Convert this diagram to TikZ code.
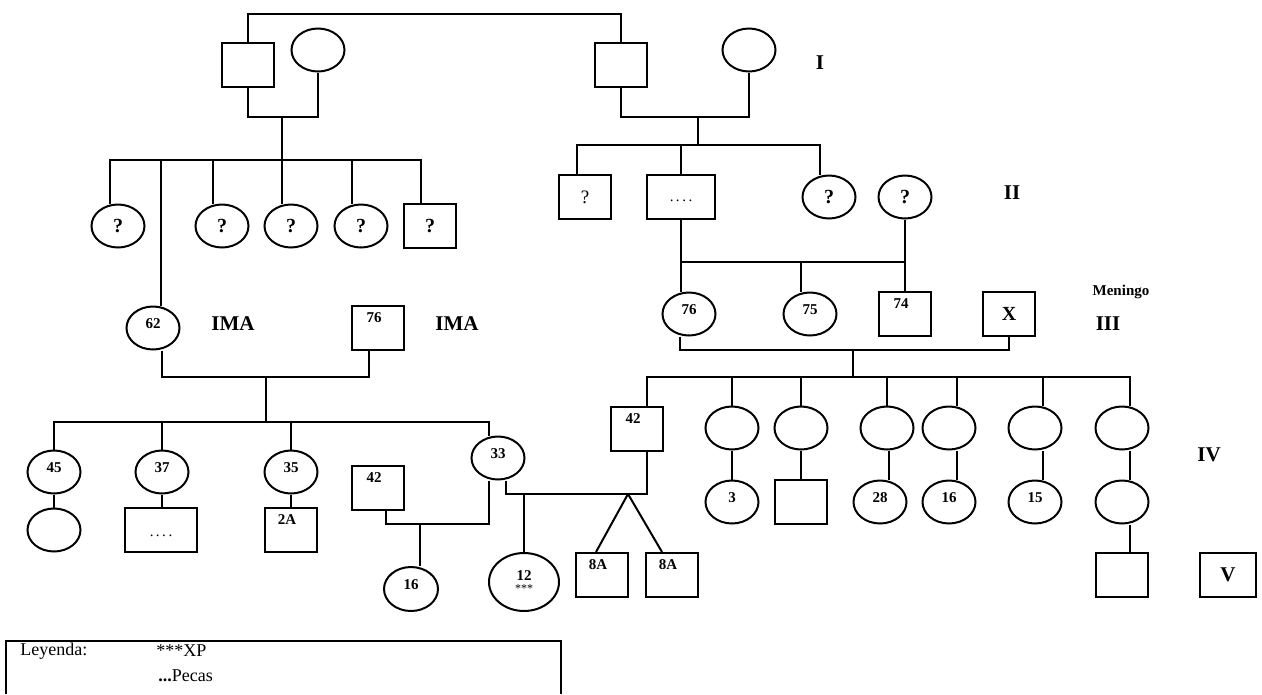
\documentclass[tikz,border=0pt]{standalone}
\usepackage{fontspec}
\setmainfont{Liberation Serif}
\usetikzlibrary{shapes.geometric}

\begin{document}
\begin{tikzpicture}[x=1pt,y=-1pt,line width=2pt,
    male/.style={draw,rectangle,minimum width=52pt,minimum height=44pt,inner sep=0},
    female/.style={draw,ellipse,minimum width=53pt,minimum height=43pt,inner sep=0},
    num/.style={font=\bfseries\fontsize{15}{15}\selectfont,text depth=9pt},
    toplbl/.style={font=\bfseries\fontsize{15}{15}\selectfont,anchor=north,xshift=-4pt,yshift=-3pt},
    qm/.style={font=\bfseries\fontsize{20}{20}\selectfont},
    gen/.style={font=\bfseries\fontsize{21}{21}\selectfont},
    dots/.style={font=\fontsize{15}{15}\selectfont}
  ]
    \useasboundingbox (0,0) rectangle (1262,694);

    \node[male] at (248,65) (gp1) {};
    \node[female] at (318,50) (gm1) {};
    \node[male] at (621,65) (gp2) {};
    \node[female] at (749,50) (gm2) {};
    \node[gen] at (820,63) (gI) {I};

    \node[female,qm] at (118,226) (a1) {?};
    \node[female,qm] at (222,226) (a3) {?};
    \node[female,qm] at (291,226) (a4) {?};
    \node[female,qm] at (361,226) (a5) {?};
    \node[male,qm] at (430,226) (a6) {?};

    \node[male,font=\fontsize{19}{19}\selectfont] at (585,197) (q1) {?};
    \node[male,minimum width=68pt,dots,text height=10pt] at (681,197) (q2) {.\,.\,.\,.};
    \node[female,qm] at (829,197) (q3) {?};
    \node[female,qm] at (905,197) (q4) {?};
    \node[gen] at (1012,193) (gII) {II};

    \node[female,num] at (153,328) (g62) {62};
    \node[gen] at (233,324) (ima1) {IMA};
    \node[male,label={[toplbl]north:76}] at (378,328) (h76) {};
    \node[gen] at (457,324) (ima2) {IMA};

    \node[female,num] at (689,314) (r76) {76};
    \node[female,num] at (810,314) (r75) {75};
    \node[male,label={[toplbl]north:74}] at (905,314) (r74) {};
    \node[male,font=\bfseries\fontsize{20}{20}\selectfont] at (1009,314) (rX) {X};
    \node[font=\bfseries\fontsize{15}{15}\selectfont] at (1121,292) (men) {Meningo};
    \node[gen] at (1108,324) (gIII) {III};

    \node[female,num] at (54,472) (d45) {45};
    \node[female,num] at (162,472) (d37) {37};
    \node[female,num] at (291,472) (d35) {35};
    \node[female,num] at (498,458) (d33) {33};
    \node[male,label={[toplbl]north:42}] at (378,488) (h42) {};
    \node[male,label={[toplbl]north:42}] at (637,429) (h42b) {};

    \node[female] at (54,530) (e1) {};
    \node[male,minimum width=72pt,dots,text height=13pt] at (161,530) (e2) {.\,.\,.\,.};
    \node[male,label={[toplbl]north:2A}] at (291,530) (e3) {};
    \node[female,num,minimum width=54pt,minimum height=44pt] at (411,589) (f16) {16};
    \node[female,minimum width=70pt,minimum height=58pt,align=center,font=\bfseries\fontsize{15}{12}\selectfont] at (524,582) (f12) {12\\{\mdseries\fontsize{12}{12}\selectfont ***}};
    \node[male,label={[toplbl]north:8A}] at (602,575) (t1) {};
    \node[male,label={[toplbl]north:8A}] at (672,575) (t2) {};

    \node[female] at (732,428) (k1) {};
    \node[female] at (801,428) (k2) {};
    \node[female] at (887,428) (k3) {};
    \node[female] at (949,428) (k4) {};
    \node[female] at (1035,428) (k5) {};
    \node[female] at (1122,428) (k6) {};
    \node[gen] at (1209,455) (gIV) {IV};

    \node[female,num] at (732,502) (m1) {3};
    \node[male] at (801,502) (m2) {};
    \node[female,num] at (880,502) (m3) {28};
    \node[female,num] at (949,502) (m4) {16};
    \node[female,num] at (1035,502) (m5) {15};
    \node[female] at (1122,502) (m6) {};
    \node[male] at (1122,575) (n1) {};
    \node[male,minimum width=56pt,gen] at (1228,575) (gV) {V};

    \coordinate (top) at (440,14);
    \coordinate (u1) at (282,117);
    \coordinate (s1) at (282,160);
    \coordinate (u2) at (698,117);
    \coordinate (s2) at (698,145);
    \coordinate (u3) at (266,377);
    \coordinate (s3) at (266,422);
    \coordinate (s4) at (801,262);
    \coordinate (u4) at (420,524);
    \coordinate (u5) at (524,494);
    \coordinate (tw) at (628,494);
    \coordinate (u6) at (853,350);
    \coordinate (s5) at (853,377);

    \draw (gp1.north) |- (top) -| (gp2.north);
    \draw (gp1.south) |- (u1) -| (gm1.south);
    \draw (u1) -- (s1);
    \draw (gp2.south) |- (u2) -| (gm2.south);
    \draw (u2) -- (s2);

    \draw ([xshift=-8pt]a1.north) |- (s1) -| ([xshift=-9pt]a6.north);
    \foreach \n in {a3,a4,a5}
        \draw ([xshift=-9pt]\n.north) -- ([xshift=-9pt]\n.north |- s1);
    \draw ([xshift=8pt]g62.north) -- ([xshift=8pt]g62.north |- s1);

    \draw ([xshift=-8pt]q1.north) |- (s2) -| ([xshift=-9pt]q3.north);
    \draw (q2.north) -- (q2.north |- s2);
    \draw (q2.south) -- (q2.south |- r76.north);
    \draw (q2.south |- s4) -| (q4.south);
    \draw (r74.north) -- (r74.north |- s4);
    \draw ([xshift=-9pt]r75.north) -- ([xshift=-9pt]r75.north |- s4);

    \draw ([xshift=9pt]g62.south) |- (u3) -| ([xshift=-9pt]h76.south);
    \draw (u3) -- (s3);
    \draw (d45.north) |- (s3) -| ([xshift=-9pt]d33.north);
    \draw (d37.north) -- (d37.north |- s3);
    \draw (d35.north) -- (d35.north |- s3);
    \path[draw]
        (d45) edge (e1)
        (d37.south) edge (d37.south |- e2.north)
        (d35) edge (e3)
        ;

    \draw ([xshift=8pt]h42.south) |- (u4) -| ([xshift=-9pt]d33.south);
    \draw (u4) -- (u4 |- f16.north);
    \draw ([xshift=8pt]d33.south) |- (tw) -| ([xshift=10pt]h42b.south);
    \draw (u5) -- (f12.north);
    \path[draw]
        (tw) edge ([xshift=-6pt]t1.north)
        (tw) edge ([xshift=-10pt]t2.north)
        ;

    \draw ([xshift=-9pt]r76.south) |- (u6) -| (rX.south);
    \draw (u6) -- (s5);
    \draw ([xshift=10pt]h42b.north) |- (s5) -| ([xshift=8pt]k6.north);
    \foreach \n in {k1,k2,k3}
        \draw (\n.north) -- (\n.north |- s5);
    \foreach \n in {k4,k5}
        \draw ([xshift=8pt]\n.north) -- ([xshift=8pt]\n.north |- s5);

    \path[draw]
        (k1) edge (m1)
        (k2) edge (m2)
        ;
    \draw ([xshift=2pt]k3.south) -- ([xshift=2pt]k3.south |- m3.north);
    \foreach \a/\b in {k4/m4,k5/m5,k6/m6,m6/n1}
        \draw ([xshift=8pt]\a.south) -- ([xshift=8pt]\b.north);

    \draw[line width=1.5pt] (6,694) |- (561,641) -- (561,694);
    \node[anchor=west,font=\fontsize{18}{18}\selectfont] at (16,651) (ley) {Leyenda:};
    \node[anchor=west,font=\fontsize{18}{18}\selectfont] at (152,651) (xp) {***XP};
    \node[anchor=west,font=\fontsize{18}{18}\selectfont] at (154,676) (pec) {\textbf{...}Pecas};
\end{tikzpicture}
\end{document}
